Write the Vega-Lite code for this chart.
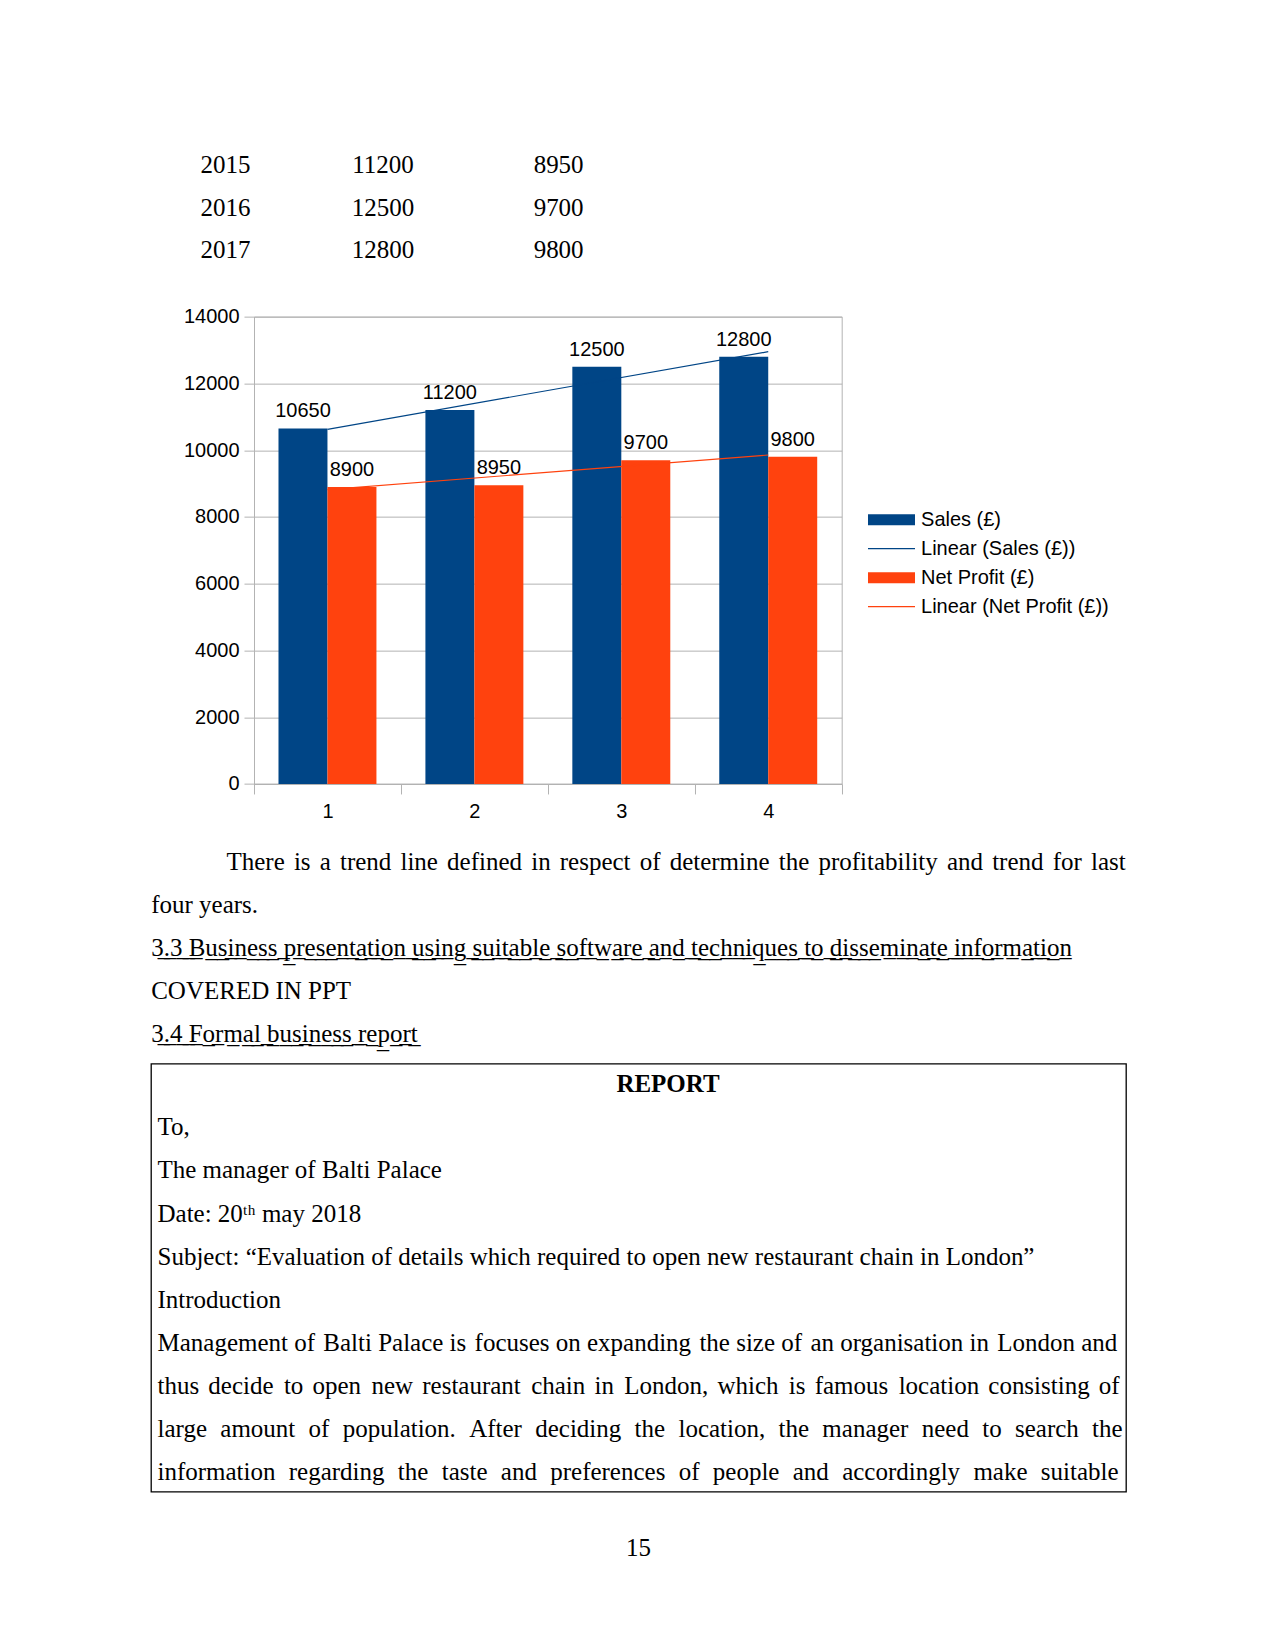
{
  "$schema": "https://vega.github.io/schema/vega-lite/v6.json",
  "background": "white",
  "padding": {"left": 150, "top": 143.65, "right": 20, "bottom": 10},
  "autosize": {"type": "pad"},
  "spacing": 0,
  "bounds": "full",
  "config": {
    "view": {"stroke": null},
    "text": {"color": "#000"},
    "axis": {"labelFont": "Liberation Sans", "labelColor": "#000"}
  },
  "vconcat": [
    {
      "width": 458.3,
      "height": 162,
      "data": {"values": [
        {"year": "2015", "sales": "11200", "profit": "8950"},
        {"year": "2016", "sales": "12500", "profit": "9700"},
        {"year": "2017", "sales": "12800", "profit": "9800"}
      ]},
      "encoding": {
        "y": {"field": "year", "type": "ordinal", "scale": {"type": "point", "padding": 0.897, "align": 0.2787}, "axis": null}
      },
      "layer": [
        {
          "mark": {"type": "text", "align": "center", "baseline": "middle", "font": "Liberation Serif", "fontSize": 25, "color": "#000"},
          "encoding": {
            "x": {"datum": "Year", "type": "nominal", "scale": {"type": "point", "domain": ["Year"], "padding": 0.5, "align": 0.1625}, "axis": null},
            "text": {"field": "year"}
          }
        },
        {
          "mark": {"type": "text", "align": "center", "baseline": "middle", "font": "Liberation Serif", "fontSize": 25, "color": "#000"},
          "encoding": {
            "x": {"datum": "Sales", "type": "nominal", "scale": {"type": "point", "domain": ["Sales"], "padding": 0.5, "align": 0.5063}, "axis": null},
            "text": {"field": "sales"}
          }
        },
        {
          "mark": {"type": "text", "align": "left", "baseline": "middle", "font": "Liberation Serif", "fontSize": 25, "color": "#000"},
          "encoding": {
            "x": {"datum": "Profit", "type": "nominal", "scale": {"type": "point", "domain": ["Profit"], "padding": 0.5, "align": 0.8349}, "axis": null},
            "text": {"field": "profit"}
          }
        }
      ],
      "resolve": {"scale": {"x": "independent"}}
    },
    {
      "spacing": 0,
      "hconcat": [
        {
          "width": 1,
          "height": 1,
          "data": {"values": []},
          "mark": {"type": "point", "opacity": 0}
        },
        {
          "width": 587.7,
          "height": 467.3,
          "view": {"stroke": "#b3b3b3", "strokeWidth": 1},
          "data": {"values": [
            {"idx": 1, "series": "Sales (£)", "value": 10650},
            {"idx": 2, "series": "Sales (£)", "value": 11200},
            {"idx": 3, "series": "Sales (£)", "value": 12500},
            {"idx": 4, "series": "Sales (£)", "value": 12800},
            {"idx": 1, "series": "Net Profit (£)", "value": 8900},
            {"idx": 2, "series": "Net Profit (£)", "value": 8950},
            {"idx": 3, "series": "Net Profit (£)", "value": 9700},
            {"idx": 4, "series": "Net Profit (£)", "value": 9800}
          ]},
          "encoding": {
            "x": {
              "field": "idx", "type": "ordinal",
              "scale": {"type": "band", "paddingInner": 0, "paddingOuter": 0},
              "axis": {"title": null, "tickBand": "extent", "tickSize": 10, "tickColor": "#b3b3b3", "domainColor": "#b3b3b3", "grid": false, "labelFont": "Liberation Sans", "labelFontSize": 20, "labelColor": "#000", "labelPadding": 8, "labelAngle": 0, "minExtent": 55.2, "maxExtent": 55.2}
            },
            "y": {
              "field": "value", "type": "quantitative",
              "scale": {"domain": [0, 14000], "nice": false},
              "axis": {"title": null, "values": [0, 2000, 4000, 6000, 8000, 10000, 12000, 14000], "format": "d", "tickSize": 10, "tickColor": "#b3b3b3", "domainColor": "#b3b3b3", "grid": true, "gridColor": "#b3b3b3", "labelFont": "Liberation Sans", "labelFontSize": 20, "labelColor": "#000", "labelPadding": 5, "minExtent": 100.65, "maxExtent": 100.65}
            },
            "color": {"field": "series", "type": "nominal", "scale": {"domain": ["Sales (£)", "Net Profit (£)"], "range": ["#004586", "#ff420e"]}, "legend": null}
          },
          "layer": [
            {
              "mark": {"type": "bar"},
              "encoding": {
                "xOffset": {"field": "series", "type": "nominal", "scale": {"domain": ["Sales (£)", "Net Profit (£)"], "paddingInner": 0, "paddingOuter": 0.5}}
              }
            },
            {
              "transform": [{"regression": "value", "on": "idx", "groupby": ["series"], "extent": [1, 4], "method": "linear"}],
              "mark": {"type": "line", "strokeWidth": 1.2}
            },
            {
              "mark": {"type": "text", "font": "Liberation Sans", "fontSize": 20, "baseline": "middle", "dy": -17},
              "encoding": {
                "xOffset": {"field": "series", "type": "nominal"},
                "text": {"field": "value", "type": "quantitative", "format": "d"},
                "color": {"value": "#000"}
              }
            }
          ]
        },
        {
          "spacing": 0,
          "vconcat": [
            {
              "width": 1,
              "height": 174,
              "data": {"values": []},
              "mark": {"type": "point", "opacity": 0}
            },
            {
              "width": 97,
              "height": 145,
              "data": {"values": [
                {"s": "Sales (£)", "k": "bar"},
                {"s": "Linear (Sales (£))", "k": "line"},
                {"s": "Net Profit (£)", "k": "bar"},
                {"s": "Linear (Net Profit (£))", "k": "line"}
              ]},
              "encoding": {
                "y": {"field": "s", "type": "nominal", "scale": {"type": "point", "domain": ["Sales (£)", "Linear (Sales (£))", "Net Profit (£)", "Linear (Net Profit (£))"], "padding": 1, "align": 0.5}, "axis": null},
                "color": {"field": "s", "type": "nominal", "scale": {"domain": ["Sales (£)", "Linear (Sales (£))", "Net Profit (£)", "Linear (Net Profit (£))"], "range": ["#004586", "#004586", "#ff420e", "#ff420e"]}, "legend": null}
              },
              "layer": [
                {
                  "transform": [{"filter": "datum.k == 'bar'"}],
                  "mark": {"type": "tick", "orient": "horizontal", "size": 47, "thickness": 11, "opacity": 1}
                },
                {
                  "transform": [{"filter": "datum.k == 'line'"}],
                  "mark": {"type": "tick", "orient": "horizontal", "size": 47, "thickness": 1.3, "opacity": 1}
                },
                {
                  "mark": {"type": "text", "align": "left", "baseline": "middle", "dx": 29.55, "font": "Liberation Sans", "fontSize": 20},
                  "encoding": {"text": {"field": "s"}, "color": {"value": "#000"}}
                }
              ]
            }
          ]
        }
      ],
      "resolve": {"scale": {"color": "independent"}}
    },
    {
      "width": 975,
      "height": 222.95,
      "data": {"values": [
        {"n": 1, "t": "There\u2006\u2009is\u2006\u2009a\u2006\u2009trend\u2006\u2009line\u2006\u2009defined\u2006\u2009in\u2006\u2009respect\u2006\u2009of\u2006\u2009determine\u2006\u2009the\u2006\u2009profitability\u2006\u2009and\u2006\u2009trend\u2006\u2009for\u2006\u2009last"},
        {"n": 2, "t": "four years."},
        {"n": 3, "t": "3\u0332.\u03323\u0332 \u0332B\u0332u\u0332s\u0332i\u0332n\u0332e\u0332s\u0332s\u0332 \u0332p\u0332r\u0332e\u0332s\u0332e\u0332n\u0332t\u0332a\u0332t\u0332i\u0332o\u0332n\u0332 \u0332u\u0332s\u0332i\u0332n\u0332g\u0332 \u0332s\u0332u\u0332i\u0332t\u0332a\u0332b\u0332l\u0332e\u0332 \u0332s\u0332o\u0332f\u0332t\u0332w\u0332a\u0332r\u0332e\u0332 \u0332a\u0332n\u0332d\u0332 \u0332t\u0332e\u0332c\u0332h\u0332n\u0332i\u0332q\u0332u\u0332e\u0332s\u0332 \u0332t\u0332o\u0332 \u0332d\u0332i\u0332s\u0332s\u0332e\u0332m\u0332i\u0332n\u0332a\u0332t\u0332e\u0332 \u0332i\u0332n\u0332f\u0332o\u0332r\u0332m\u0332a\u0332t\u0332i\u0332o\u0332n\u0332"},
        {"n": 4, "t": "COVERED IN PPT"},
        {"n": 5, "t": "3\u0332.\u03324\u0332 \u0332F\u0332o\u0332r\u0332m\u0332a\u0332l\u0332 \u0332b\u0332u\u0332s\u0332i\u0332n\u0332e\u0332s\u0332s\u0332 \u0332r\u0332e\u0332p\u0332o\u0332r\u0332t\u0332"}
      ]},
      "encoding": {
        "y": {"field": "n", "type": "ordinal", "scale": {"type": "point", "padding": 0.5864, "align": 0.444}, "axis": null},
        "text": {"field": "t"}
      },
      "layer": [
        {
          "transform": [{"filter": "datum.n == 1"}],
          "mark": {"type": "text", "align": "left", "baseline": "middle", "font": "Liberation Serif", "fontSize": 25, "color": "#000", "dx": 75.5},
          "encoding": {"x": {"value": 0}}
        },
        {
          "transform": [{"filter": "datum.n > 1"}],
          "mark": {"type": "text", "align": "left", "baseline": "middle", "font": "Liberation Serif", "fontSize": 25, "color": "#000", "dx": 0.2},
          "encoding": {"x": {"value": 0}}
        }
      ]
    },
    {
      "width": 975,
      "height": 428,
      "view": {"stroke": "#000", "strokeWidth": 1.3},
      "data": {"values": [
        {"n": 1, "t": "REPORT"},
        {"n": 2, "t": "To,"},
        {"n": 3, "t": "The manager of Balti Palace"},
        {"n": 4, "t": "Date: 20ᵗʰ may 2018"},
        {"n": 5, "t": "Subject: “Evaluation of details which required to open new restaurant chain in London”"},
        {"n": 6, "t": "Introduction"},
        {"n": 7, "t": "Management of\u2004Balti Palace is\u2004focuses on expanding\u2004the size of\u2004an organisation in\u2004London and"},
        {"n": 8, "t": "thus\u2006\u2009decide\u2005\u2006to\u2006\u2009open\u2005\u2006new\u2006\u2009restaurant\u2005\u2006chain\u2006\u2009in\u2005\u2006London,\u2006\u2009which\u2005\u2006is\u2006\u2009famous\u2005\u2006location\u2006\u2009consisting\u2006\u2009of"},
        {"n": 9, "t": "large\u2004\u2009amount\u2004\u2009of\u2004\u2009population.\u2004\u2009After\u2004\u2009deciding\u2004\u2009the\u2004\u2009location,\u2004\u2009the\u2004\u2009manager\u2004\u2009need\u2004\u2009to\u2004\u2009search\u2004\u2009the"},
        {"n": 10, "t": "information\u2004\u2009regarding\u2004\u2009the\u2004\u2009taste\u2004\u2009and\u2004\u2009preferences\u2004\u2009of\u2004\u2009people\u2004\u2009and\u2004\u2009accordingly\u2004\u2009make\u2004\u2009suitable"}
      ]},
      "encoding": {
        "y": {"field": "n", "type": "ordinal", "scale": {"type": "point", "padding": 0.4614, "align": 0.515}, "axis": null},
        "text": {"field": "t"}
      },
      "layer": [
        {
          "transform": [{"filter": "datum.n == 1"}],
          "mark": {"type": "text", "align": "center", "baseline": "middle", "font": "Liberation Serif", "fontSize": 25, "fontWeight": "bold", "color": "#000", "dx": 29.5}
        },
        {
          "transform": [{"filter": "datum.n > 1"}],
          "mark": {"type": "text", "align": "left", "baseline": "middle", "font": "Liberation Serif", "fontSize": 25, "color": "#000", "dx": 6.5},
          "encoding": {"x": {"value": 0}}
        }
      ]
    },
    {
      "width": 975,
      "height": 110.7,
      "data": {"values": [{"t": "15"}]},
      "mark": {"type": "text", "align": "center", "baseline": "middle", "font": "Liberation Serif", "fontSize": 25, "color": "#000"},
      "encoding": {"text": {"field": "t"}}
    }
  ]
}
